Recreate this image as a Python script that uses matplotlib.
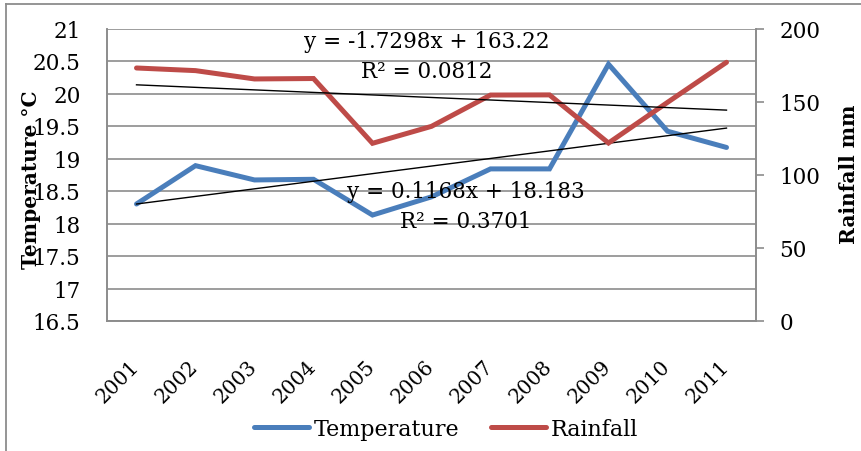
import numpy as np
import matplotlib.pyplot as plt
import matplotlib.transforms as mtransforms
from matplotlib.lines import Line2D

plt.rcParams['font.family'] = ['DejaVu Serif']

years = ['2001', '2002', '2003', '2004', '2005', '2006',
         '2007', '2008', '2009', '2010', '2011']
temperature = [18.30, 18.89, 18.67, 18.68, 18.13, 18.41,
               18.84, 18.84, 20.45, 19.42, 19.17]
rainfall = [173.0, 171.2, 165.5, 165.8, 121.5, 133.1,
            154.5, 154.6, 121.7, 149.5, 176.9]

# linear trendlines (x = 1..11)
temp_fit = (0.1168, 18.183, 0.3701)
rain_fit = (-1.7298, 163.22, 0.0812)

blue = '#4A7EBB'
red = '#BE4B48'
grid_gray = '#8C8C8C'

fig = plt.figure(figsize=(8.62, 4.52), dpi=100)
ax = fig.add_axes([107 / 862, 1 - 322 / 452, 649 / 862, 292.5 / 452])
ax2 = ax.twinx()

x = np.arange(len(years))
xt = x + 1

ax.plot(x, temperature, color=blue, lw=3.6, solid_capstyle='round',
        solid_joinstyle='miter', zorder=3)
ax.plot(x, temp_fit[0] * xt + temp_fit[1], color='black', lw=1.0, zorder=4)
ax2.plot(x, rainfall, color=red, lw=3.6, solid_capstyle='round',
         solid_joinstyle='miter', zorder=3)
ax2.plot(x, rain_fit[0] * xt + rain_fit[1], color='black', lw=1.0, zorder=4)

ax.set_xlim(-0.5, 10.5)
ax.set_ylim(16.5, 21)
yt = np.arange(16.5, 21.01, 0.5)
ax.set_yticks(yt)
ax.set_yticklabels(['%g' % v for v in yt])
ax.yaxis.grid(True, color=grid_gray, lw=1.2)
ax.set_axisbelow(True)
ax.tick_params(axis='y', length=0, pad=19, labelsize=15.5)

ax.set_xticks(x)
ax.set_xticklabels(years, rotation=45, ha='right')
ax.tick_params(axis='x', length=0, pad=25, labelsize=14.5)
shift = mtransforms.ScaledTranslation(6 / 100, 0, fig.dpi_scale_trans)
for lab in ax.get_xticklabels():
    lab.set_transform(lab.get_transform() + shift)

ax2.set_ylim(0, 200)
ax2.set_yticks(np.arange(0, 201, 50))
ax2.tick_params(axis='y', length=6, width=1.2, color=grid_gray,
                pad=11, labelsize=15.5)

for a in (ax, ax2):
    for side in ('left', 'right', 'bottom', 'top'):
        a.spines[side].set_color(grid_gray)
        a.spines[side].set_linewidth(1.2)
    a.spines['top'].set_visible(False)

ax.text(0.493, 0.957, 'y = -1.7298x + 163.22', transform=ax.transAxes,
        ha='center', va='center', fontsize=15.5, zorder=5)
ax.text(0.493, 0.855, 'R² = 0.0812', transform=ax.transAxes,
        ha='center', va='center', fontsize=15.5, zorder=5)
ax.text(0.553, 0.444, 'y = 0.1168x + 18.183', transform=ax.transAxes,
        ha='center', va='center', fontsize=15.5, zorder=5)
ax.text(0.553, 0.342, 'R² = 0.3701', transform=ax.transAxes,
        ha='center', va='center', fontsize=15.5, zorder=5)

fig.text(31 / 862, 1 - 180 / 452, 'Temperature °C', rotation=90,
         ha='center', va='center', fontsize=14.5, fontweight='bold')
fig.text(849 / 862, 1 - 174 / 452, 'Rainfall mm', rotation=90,
         ha='center', va='center', fontsize=14.5, fontweight='bold')

handles = [Line2D([], [], color=blue, lw=3.6, solid_capstyle='round'),
           Line2D([], [], color=red, lw=3.6, solid_capstyle='round')]
fig.legend(handles, ['Temperature', 'Rainfall'], loc='center',
           bbox_to_anchor=(446 / 862, 1 - 430 / 452), ncol=2, frameon=False,
           fontsize=16, handlelength=2.5, handletextpad=0.2,
           columnspacing=1.4)

# chart frame
fig.add_artist(Line2D([6 / 862, 6 / 862], [0, 1 - 5 / 452],
                      color=grid_gray, lw=1.3))
fig.add_artist(Line2D([6 / 862, 1], [1 - 5 / 452, 1 - 5 / 452],
                      color=grid_gray, lw=1.3))

fig.savefig('out.png', dpi=100)
